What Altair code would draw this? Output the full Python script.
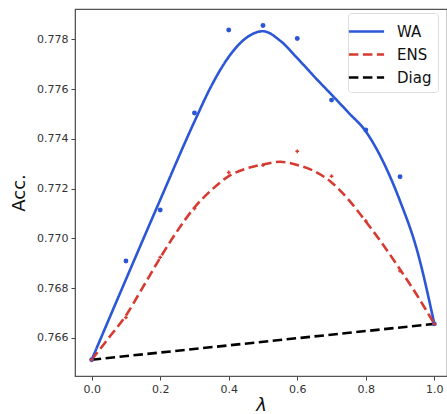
import altair as alt
import pandas as pd

# ---- data ----
lam = [0.0, 0.1, 0.2, 0.3, 0.4, 0.5, 0.6, 0.7, 0.8, 0.9, 1.0]
wa_points = [0.76512, 0.76909, 0.77114, 0.77504, 0.77838, 0.77856, 0.77804, 0.77556, 0.77436, 0.77248, 0.76656]
ens_points = [0.76512, 0.76682, 0.76924, 0.77120, 0.77265, 0.77294, 0.77350, 0.77250, 0.77070, 0.76869, 0.76656]

wa_curve_x = [0.0, 0.1, 0.2, 0.3, 0.35, 0.4, 0.45, 0.5, 0.55, 0.6, 0.65, 0.7, 0.75, 0.8, 0.85, 0.9, 0.95, 1.0]
wa_curve_y = [0.76512, 0.76835, 0.77155, 0.77470, 0.77615, 0.77730, 0.77805, 0.77833, 0.77795, 0.77725,
              0.77650, 0.77578, 0.77505, 0.77430, 0.77310, 0.77150, 0.76950, 0.76656]

ens_curve_x = [0.0, 0.05, 0.1, 0.15, 0.2, 0.25, 0.3, 0.35, 0.4, 0.45, 0.5, 0.55, 0.6, 0.65, 0.7,
               0.75, 0.8, 0.85, 0.9, 0.95, 1.0]
ens_curve_y = [0.76512, 0.76600, 0.76690, 0.76805, 0.76922, 0.77030, 0.77124, 0.77195, 0.77250, 0.77280,
               0.77297, 0.77308, 0.77295, 0.77270, 0.77225, 0.77155, 0.77068, 0.76975, 0.76875, 0.76770,
               0.76656]

diag_x = [0.0, 1.0]
diag_y = [0.76512, 0.76656]

methods = ["WA", "ENS", "Diag"]
colors = ["#2b56d6", "#d63a30", "#000000"]
dashes = [[1, 0], [9.5, 4.5], [9.5, 4.5]]

lines = pd.concat([
    pd.DataFrame({"lam": wa_curve_x, "acc": wa_curve_y, "method": "WA"}),
    pd.DataFrame({"lam": ens_curve_x, "acc": ens_curve_y, "method": "ENS"}),
    pd.DataFrame({"lam": diag_x, "acc": diag_y, "method": "Diag"}),
])
pts_wa = pd.DataFrame({"lam": lam, "acc": wa_points})
pts_ens = pd.DataFrame({"lam": lam, "acc": ens_points})

xs = alt.Scale(domain=[-0.0487, 1.037], nice=False, zero=False)
ys = alt.Scale(domain=[0.764464, 0.779224], nice=False, zero=False)

xax = alt.Axis(values=[0.0, 0.2, 0.4, 0.6, 0.8, 1.0], format=".1f", title="λ",
               grid=False, titleFontStyle="italic", titleFontSize=18,
               titleFontWeight="normal", titlePadding=2)
yax = alt.Axis(values=[0.766, 0.768, 0.770, 0.772, 0.774, 0.776, 0.778], format=".3f",
               title="Acc.", grid=False, titleFontSize=18, titleFontWeight="normal",
               titlePadding=8)

legend = alt.Legend(title=None, orient="none", legendX=273, legendY=4,
                    symbolType="M-1.6,0L1.6,0", symbolSize=484, symbolStrokeWidth=2.5,
                    labelFontSize=15, labelColor="#111", strokeColor="#dddddd",
                    fillColor="white", padding=6, rowPadding=2, labelOffset=18,
                    cornerRadius=3)

line_layer = alt.Chart(lines).mark_line(strokeWidth=2.6, interpolate="monotone").encode(
    x=alt.X("lam:Q", scale=xs, axis=xax),
    y=alt.Y("acc:Q", scale=ys, axis=yax),
    color=alt.Color("method:N", scale=alt.Scale(domain=methods, range=colors),
                    sort=methods, legend=legend),
    strokeDash=alt.StrokeDash("method:N", scale=alt.Scale(domain=methods, range=dashes),
                              sort=methods, legend=legend),
    detail="method:N",
)

wa_dots = alt.Chart(pts_wa).mark_point(filled=True, shape="circle", size=24, opacity=1).encode(
    x=alt.X("lam:Q", scale=xs), y=alt.Y("acc:Q", scale=ys), color=alt.value("#2b56d6"))
ens_dots = alt.Chart(pts_ens).mark_point(filled=True, shape="cross", size=14, opacity=1).encode(
    x=alt.X("lam:Q", scale=xs), y=alt.Y("acc:Q", scale=ys), color=alt.value("#d63a30"))

chart = alt.layer(line_layer, wa_dots, ens_dots).properties(
    width=372, height=367,
    autosize=alt.AutoSizeParams(type="none"),
    padding={"left": 75, "top": 9, "right": 0, "bottom": 38},
).configure_view(stroke="#555555", strokeWidth=1.2).configure_axis(
    labelFont="DejaVu Sans", titleFont="DejaVu Sans", labelFontSize=11,
    labelColor="#333333", tickColor="#444444", tickSize=4, domainColor="#555555",
    titleColor="#111111", labelPadding=3,
).configure_legend(labelFont="DejaVu Sans")

chart.save("out.html", embed_options={"renderer": "svg", "actions": False})
